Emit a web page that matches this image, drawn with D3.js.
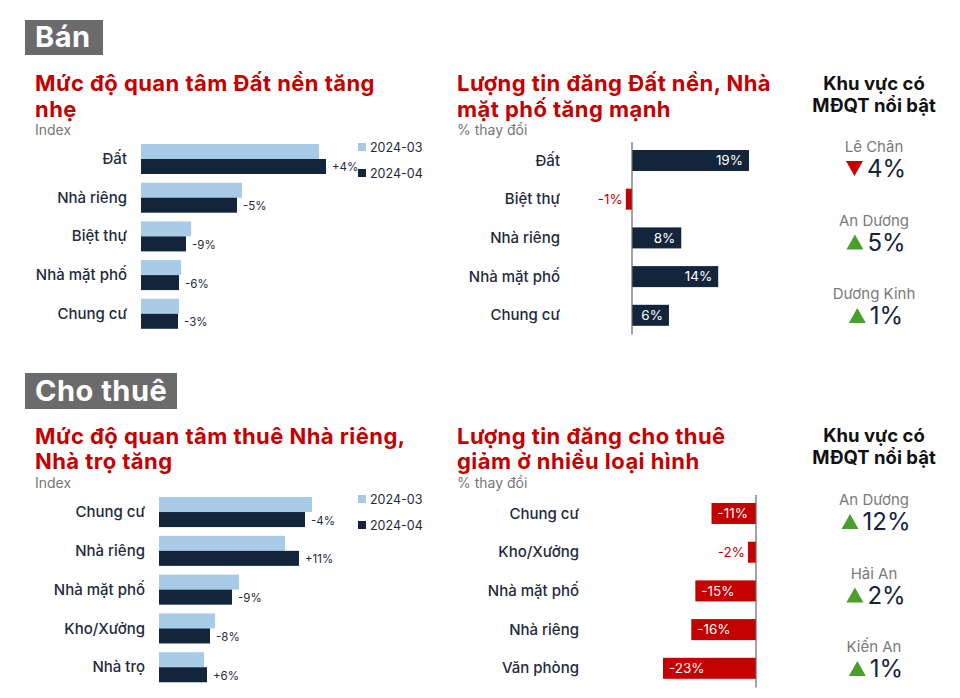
<!DOCTYPE html>
<html>
<head>
<meta charset="utf-8">
<script src="https://cdn.jsdelivr.net/npm/d3@7"></script>
<style>
  html, body { margin: 0; padding: 0; background: #fff; }
  svg { display: block; font-family: Inter, "Noto Sans", sans-serif; }
</style>
</head>
<body>
<div id="chart"></div>
<script>
// ---- Bán ----
const banCategories = ["Đất", "Nhà riêng", "Biệt thự", "Nhà mặt phố", "Chung cư"];
const banIndex03 = [178, 101, 50, 40, 38];
const banIndex04 = [185, 96, 45, 38, 37];
const banIndexChange = ["+4%", "-5%", "-9%", "-6%", "-3%"];

const banListingCategories = ["Đất", "Biệt thự", "Nhà riêng", "Nhà mặt phố", "Chung cư"];
const banListingChange = [19, -1, 8, 14, 6];

const banRegions = ["Lê Chân", "An Dương", "Dương Kinh"];
const banRegionChange = [-4, 5, 1];

// ---- Cho thuê ----
const thueCategories = ["Chung cư", "Nhà riêng", "Nhà mặt phố", "Kho/Xưởng", "Nhà trọ"];
const thueIndex03 = [153, 126, 80, 56, 45];
const thueIndex04 = [146, 140, 73, 51, 48];
const thueIndexChange = ["-4%", "+11%", "-9%", "-8%", "+6%"];

const thueListingCategories = ["Chung cư", "Kho/Xưởng", "Nhà mặt phố", "Nhà riêng", "Văn phòng"];
const thueListingChange = [-11, -2, -15, -16, -23];

const thueRegions = ["An Dương", "Hải An", "Kiến An"];
const thueRegionChange = [12, 2, 1];

const seriesNames = ["2024-03", "2024-04"];

const red = "#c40000";
const navy = "#13253a";
const lightBlue = "#a8cbe7";
const green = "#4a9e2a";
const labelColor = "#1e2b3a";

const svg = d3.select("#chart").append("svg")
  .attr("width", 960)
  .attr("height", 698)
  .attr("viewBox", [0, 0, 960, 698]);

function sectionTag(x, y, w, h, label) {
  svg.append("rect").attr("x", x).attr("y", y).attr("width", w).attr("height", h).attr("fill", "#6b6b6b");
  svg.append("text").attr("x", x + 10).attr("y", y + h - 8)
    .attr("fill", "#fff").attr("font-size", 29).attr("font-weight", 700)
    .attr("letter-spacing", 0.5)
    .text(label);
}

function chartTitle(x, baselines, lines, sub, subY) {
  // both title lines in one text element, tight leading like the original
  const t = svg.append("text").attr("x", x).attr("y", baselines[0])
    .attr("fill", red).attr("font-size", 22).attr("font-weight", 700)
    .attr("letter-spacing", 0.45);
  lines.forEach(function (line, i) {
    t.append("tspan").attr("x", x).attr("y", baselines[i]).text(line);
  });
  svg.append("text").attr("x", x).attr("y", subY)
    .attr("fill", "#777").attr("font-size", 14).text(sub);
}

function indexChart(opts) {
  const n = opts.categories.length;
  const y = d3.scaleBand()
    .domain(opts.categories)
    .range([opts.top, opts.top + opts.step * (n - 0.225)])
    .paddingInner(0.225)
    .paddingOuter(0);
  const ySeries = d3.scaleBand().domain(seriesNames).range([0, y.bandwidth()]);
  const x = d3.scaleLinear().domain([0, 185]).range([opts.left, opts.left + 185]);

  const g = svg.append("g");
  const rows = opts.categories.map(function (c, i) {
    return { cat: c, v03: opts.v03[i], v04: opts.v04[i], change: opts.change[i] };
  });

  const row = g.selectAll("g.row").data(rows).join("g")
    .attr("transform", function (d) { return "translate(0," + y(d.cat) + ")"; });

  row.append("rect")
    .attr("x", x(0)).attr("y", ySeries(seriesNames[0]))
    .attr("width", function (d) { return x(d.v03) - x(0); })
    .attr("height", ySeries.bandwidth())
    .attr("fill", lightBlue);
  row.append("rect")
    .attr("x", x(0)).attr("y", ySeries(seriesNames[1]))
    .attr("width", function (d) { return x(d.v04) - x(0); })
    .attr("height", ySeries.bandwidth())
    .attr("fill", navy);
  row.append("text")
    .attr("x", function (d) { return x(d.v04) + 6; })
    .attr("y", ySeries(seriesNames[1]) + ySeries.bandwidth() / 2 + 5)
    .attr("font-size", 11.5).attr("fill", labelColor)
    .text(function (d) { return d.change; });
  row.append("text")
    .attr("x", opts.left - 14)
    .attr("y", y.bandwidth() / 2 + 1)
    .attr("text-anchor", "end").attr("dominant-baseline", "middle")
    .attr("font-size", 15).attr("font-weight", 500).attr("fill", labelColor)
    .text(function (d) { return d.cat; });

  // legend
  seriesNames.forEach(function (s, i) {
    const ly = opts.legendY + i * 26;
    g.append("rect").attr("x", 358).attr("y", ly - 4).attr("width", 8).attr("height", 8)
      .attr("fill", i === 0 ? lightBlue : navy);
    g.append("text").attr("x", 370).attr("y", ly + 4.5)
      .attr("font-size", 12.5).attr("fill", labelColor).text(s);
  });
}

function changeChart(opts) {
  const n = opts.categories.length;
  const pad = 0.457;
  const y = d3.scaleBand()
    .domain(opts.categories)
    .range([opts.top, opts.top + opts.step * (n - pad)])
    .paddingInner(pad)
    .paddingOuter(0);
  const x = d3.scaleLinear().domain(opts.domain).range(opts.range);
  const rows = opts.categories.map(function (c, i) { return { cat: c, v: opts.values[i] }; });

  const g = svg.append("g");
  const row = g.selectAll("g.row").data(rows).join("g")
    .attr("transform", function (d) { return "translate(0," + y(d.cat) + ")"; });

  row.append("rect")
    .attr("x", function (d) { return Math.min(x(0), x(d.v)); })
    .attr("width", function (d) { return Math.abs(x(d.v) - x(0)); })
    .attr("height", y.bandwidth())
    .attr("fill", function (d) { return d.v < 0 ? red : navy; });

  row.append("text")
    .attr("y", y.bandwidth() / 2 + 1)
    .attr("dominant-baseline", "middle")
    .attr("font-size", 13.5)
    .each(function (d) {
      const w = Math.abs(x(d.v) - x(0));
      const t = d3.select(this).text(d.v + "%");
      if (w < 20) {
        t.attr("x", x(d.v) - 3).attr("text-anchor", "end").attr("fill", red);
      } else if (d.v >= 0) {
        t.attr("x", x(d.v) - 6).attr("text-anchor", "end").attr("fill", "#fff");
      } else {
        t.attr("x", x(d.v) + 6).attr("text-anchor", "start").attr("fill", "#fff");
      }
    });

  row.append("text")
    .attr("x", opts.labelX)
    .attr("y", y.bandwidth() / 2 + 1)
    .attr("text-anchor", "end").attr("dominant-baseline", "middle")
    .attr("font-size", 15).attr("font-weight", 500).attr("fill", labelColor)
    .text(function (d) { return d.cat; });

  g.append("line")
    .attr("x1", x(0)).attr("x2", x(0))
    .attr("y1", opts.top - 8).attr("y2", opts.top + opts.step * n - 9)
    .attr("stroke", "#666").attr("stroke-width", 1.2);
}

function regionPanel(opts) {
  const cx = 874;
  const title = svg.append("text").attr("x", cx).attr("y", opts.titleY).attr("text-anchor", "middle")
    .attr("font-size", 18.5).attr("font-weight", 700).attr("fill", "#111");
  title.append("tspan").attr("x", cx).attr("y", opts.titleY).text("Khu vực có");
  title.append("tspan").attr("x", cx).attr("y", opts.titleY + 22).text("MĐQT nổi bật");

  opts.regions.forEach(function (r, i) {
    const top = opts.firstY + i * 73.5;
    svg.append("text").attr("x", cx).attr("y", top).attr("text-anchor", "middle")
      .attr("font-size", 15).attr("fill", "#7a7a7a").text(r);

    const v = opts.values[i];
    const g = svg.append("g");
    const t = g.append("text").attr("x", 21).attr("y", top + 25)
      .attr("font-size", 24).attr("fill", navy).text(Math.abs(v) + "%");
    const tw = t.node().getComputedTextLength();
    const up = "M0,15L8.5,0L17,15Z";
    const down = "M0,0L17,0L8.5,15Z";
    g.append("path").attr("d", v < 0 ? down : up)
      .attr("transform", "translate(0," + (top + 9) + ")")
      .attr("fill", v < 0 ? red : green);
    const total = 21 + tw;
    g.attr("transform", "translate(" + (cx + 2 - total / 2) + ",0)");
  });
}

// ---- Bán section ----
sectionTag(25, 20, 78, 35, "Bán");
chartTitle(35, [91, 117], ["Mức độ quan tâm Đất nền tăng", "nhẹ"], "Index", 135);
indexChart({
  categories: banCategories, v03: banIndex03, v04: banIndex04, change: banIndexChange,
  top: 144, step: 38.7, left: 141, legendY: 147
});
chartTitle(457, [91, 117], ["Lượng tin đăng Đất nền, Nhà", "mặt phố tăng mạnh"], "% thay đổi", 135);
changeChart({
  categories: banListingCategories, values: banListingChange,
  top: 150, step: 38.7, domain: [0, 19], range: [632, 749], labelX: 560
});
regionPanel({ titleY: 90, firstY: 152, regions: banRegions, values: banRegionChange });

// ---- Cho thuê section ----
sectionTag(25, 373, 152, 36, "Cho thuê");
chartTitle(35, [444, 469], ["Mức độ quan tâm thuê Nhà riêng,", "Nhà trọ tăng"], "Index", 488);
indexChart({
  categories: thueCategories, v03: thueIndex03, v04: thueIndex04, change: thueIndexChange,
  top: 497, step: 38.8, left: 159, legendY: 499
});
chartTitle(457, [444, 469], ["Lượng tin đăng cho thuê", "giảm ở nhiều loại hình"], "% thay đổi", 488);
changeChart({
  categories: thueListingCategories, values: thueListingChange,
  top: 503, step: 38.7, domain: [-23, 0], range: [663, 756], labelX: 579
});
regionPanel({ titleY: 442, firstY: 505, regions: thueRegions, values: thueRegionChange });
</script>
</body>
</html>
